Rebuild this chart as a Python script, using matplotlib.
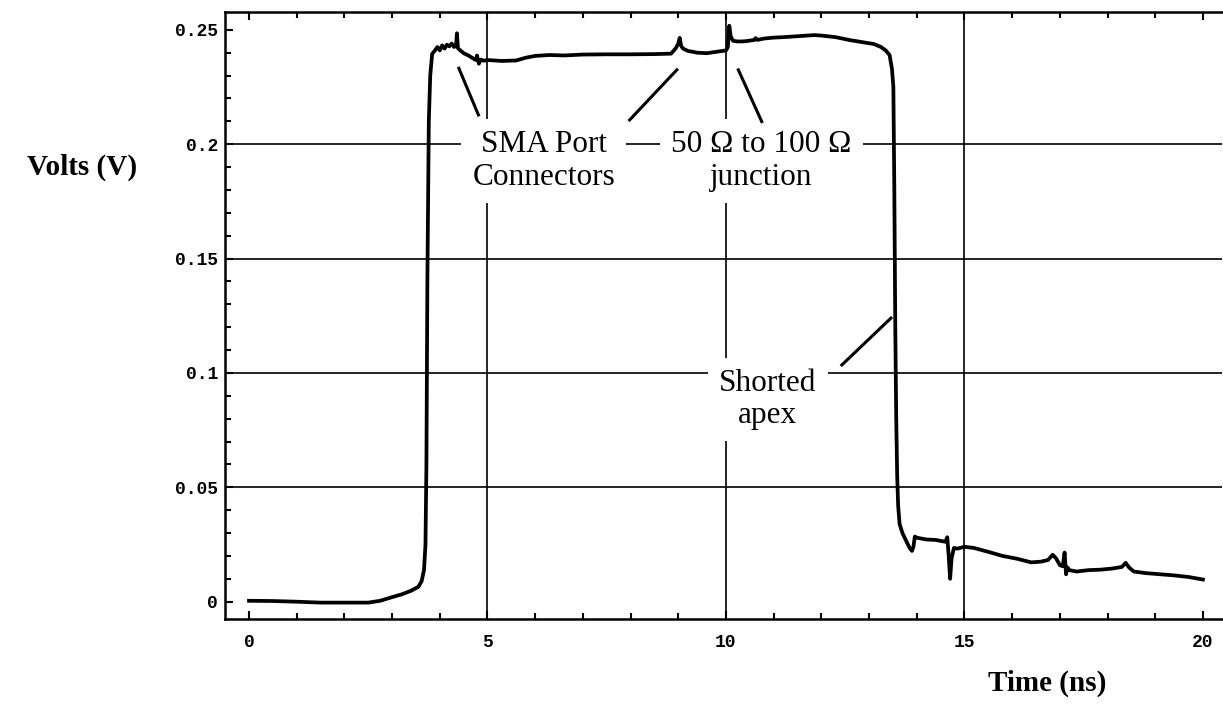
import matplotlib
matplotlib.use("Agg")
import matplotlib.pyplot as plt
from matplotlib.ticker import MultipleLocator

# time (ns) and voltage (V)
t = [0.0, 0.5, 1.0, 1.5, 2.0, 2.5, 2.75, 3.0, 3.2, 3.4, 3.55, 3.62, 3.67,
     3.70, 3.72, 3.74, 3.77, 3.80, 3.84, 3.90, 3.95, 4.00, 4.05, 4.10, 4.15,
     4.20, 4.25, 4.30, 4.34, 4.36, 4.38, 4.42, 4.50, 4.60, 4.70, 4.76, 4.78,
     4.82, 4.86, 4.92, 5.00, 5.30, 5.60, 5.80, 6.00, 6.30, 6.60, 7.00, 7.50,
     8.00, 8.50, 8.85, 8.95, 9.00, 9.03, 9.06, 9.10, 9.20, 9.40, 9.60, 9.80,
     10.00, 10.04, 10.07, 10.10, 10.15, 10.25, 10.40, 10.60, 10.62, 10.66,
     10.80, 11.00, 11.20, 11.50, 11.85, 12.00, 12.30, 12.60, 12.90, 13.10,
     13.25, 13.35, 13.43, 13.48, 13.51, 13.53, 13.55, 13.57, 13.59, 13.61,
     13.64, 13.70, 13.78, 13.85, 13.90, 13.93, 13.96, 14.00, 14.20, 14.40,
     14.60, 14.64, 14.67, 14.70, 14.73, 14.78, 14.85, 15.00, 15.20, 15.50,
     15.80, 16.10, 16.40, 16.60, 16.75, 16.85, 16.92, 17.00, 17.06, 17.10,
     17.13, 17.16, 17.20, 17.35, 17.60, 17.85, 18.10, 18.30, 18.38, 18.45,
     18.55, 18.80, 19.10, 19.40, 19.70, 20.00]
v = [0.0004, 0.0003, 0.0000, -0.0004, -0.0004, -0.0004, 0.0004, 0.0020,
     0.0032, 0.0048, 0.0065, 0.0090, 0.0140, 0.0250, 0.0600, 0.1400, 0.2100,
     0.2300, 0.2395, 0.2410, 0.2425, 0.2410, 0.2432, 0.2418, 0.2435, 0.2428,
     0.2440, 0.2425, 0.2430, 0.2485, 0.2420, 0.2412, 0.2398, 0.2388, 0.2375,
     0.2368, 0.2388, 0.2352, 0.2370, 0.2365, 0.2368, 0.2364, 0.2366, 0.2378,
     0.2386, 0.2390, 0.2388, 0.2392, 0.2393, 0.2393, 0.2394, 0.2396, 0.2420,
     0.2440, 0.2465, 0.2430, 0.2418, 0.2408, 0.2400, 0.2398, 0.2404, 0.2410,
     0.2425, 0.2518, 0.2470, 0.2452, 0.2449, 0.2450, 0.2456, 0.2464, 0.2456,
     0.2462, 0.2466, 0.2468, 0.2472, 0.2477, 0.2475, 0.2468, 0.2455, 0.2445,
     0.2438, 0.2425, 0.2410, 0.2390, 0.2330, 0.2250, 0.1800, 0.1200, 0.0800,
     0.0550, 0.0420, 0.0340, 0.0300, 0.0265, 0.0235, 0.0222, 0.0240, 0.0285,
     0.0280, 0.0272, 0.0270, 0.0262, 0.0282, 0.0200, 0.0100, 0.0190, 0.0235,
     0.0232, 0.0240, 0.0235, 0.0218, 0.0200, 0.0188, 0.0172, 0.0175, 0.0182,
     0.0205, 0.0190, 0.0160, 0.0155, 0.0215, 0.0120, 0.0150, 0.0138, 0.0132,
     0.0138, 0.0140, 0.0145, 0.0152, 0.0170, 0.0150, 0.0132, 0.0125, 0.0120,
     0.0115, 0.0108, 0.0097]

xgrid = [5, 10, 15]
ygrid = [0.05, 0.1, 0.15, 0.2]
xticks = [0, 5, 10, 15, 20]
yticks = [0, 0.05, 0.1, 0.15, 0.2, 0.25]
ylabels = ["0", "0.05", "0.1", "0.15", "0.2", "0.25"]

# annotation text and leader lines (data coords)
notes = ["SMA Port\nConnectors", "50 \u03a9 to 100 \u03a9\njunction", "Shorted\napex"]
note_xy = [(6.18, 0.1927), (10.74, 0.1927), (10.88, 0.0884)]
leaders = [((4.40, 4.81), (0.2332, 0.2128)),
           ((8.97, 7.98), (0.2325, 0.2106)),
           ((10.26, 10.75), (0.2325, 0.2099)),
           ((12.43, 13.46), (0.1035, 0.1240))]

fig = plt.figure(figsize=(12.23, 7.05), dpi=100)
ax = fig.add_axes([225 / 1223, 86 / 705, 997 / 1223, 607 / 705])

for gx in xgrid:
    ax.axvline(gx, color="black", lw=1.2, zorder=1)
for gy in ygrid:
    ax.axhline(gy, color="black", lw=1.2, zorder=1)

ax.plot(t, v, color="black", lw=2.7, solid_joinstyle="round", zorder=3)

for xs, ys in leaders:
    ax.plot(xs, ys, color="black", lw=2.2, zorder=5)

for txt, (nx, ny) in zip(notes, note_xy):
    ax.text(nx, ny, txt, ha="center", va="center", multialignment="center",
            family="Liberation Serif", fontsize=22.5, linespacing=1.15,
            zorder=4, bbox=dict(facecolor="white", edgecolor="none", pad=8))

ax.set_xlim(-0.503, 20.40)
ax.set_ylim(-0.00756, 0.2578)

ax.set_xticks(xticks)
ax.set_yticks(yticks, ylabels)
ax.xaxis.set_minor_locator(MultipleLocator(1))
ax.yaxis.set_minor_locator(MultipleLocator(0.01))
ax.tick_params(which="both", direction="in", top=True, right=False, width=1.5)
ax.tick_params(which="major", length=6)
ax.tick_params(which="minor", length=4)
ax.tick_params(axis="x", pad=11)
ax.tick_params(axis="y", pad=5)
for lab in ax.get_xticklabels() + ax.get_yticklabels():
    lab.set_family("Liberation Mono")
    lab.set_fontsize(13)
    lab.set_weight("bold")

for side in ["left", "bottom", "top"]:
    ax.spines[side].set_linewidth(1.8)
ax.spines["right"].set_visible(False)

fig.text(82 / 1223, 1 - 167 / 705, "Volts (V)", ha="center", va="center",
         family="Liberation Serif", fontsize=21, weight="bold")
fig.text(1047 / 1223, 1 - 683 / 705, "Time (ns)", ha="center", va="center",
         family="Liberation Serif", fontsize=21, weight="bold")

fig.savefig("out.png", dpi=100)
